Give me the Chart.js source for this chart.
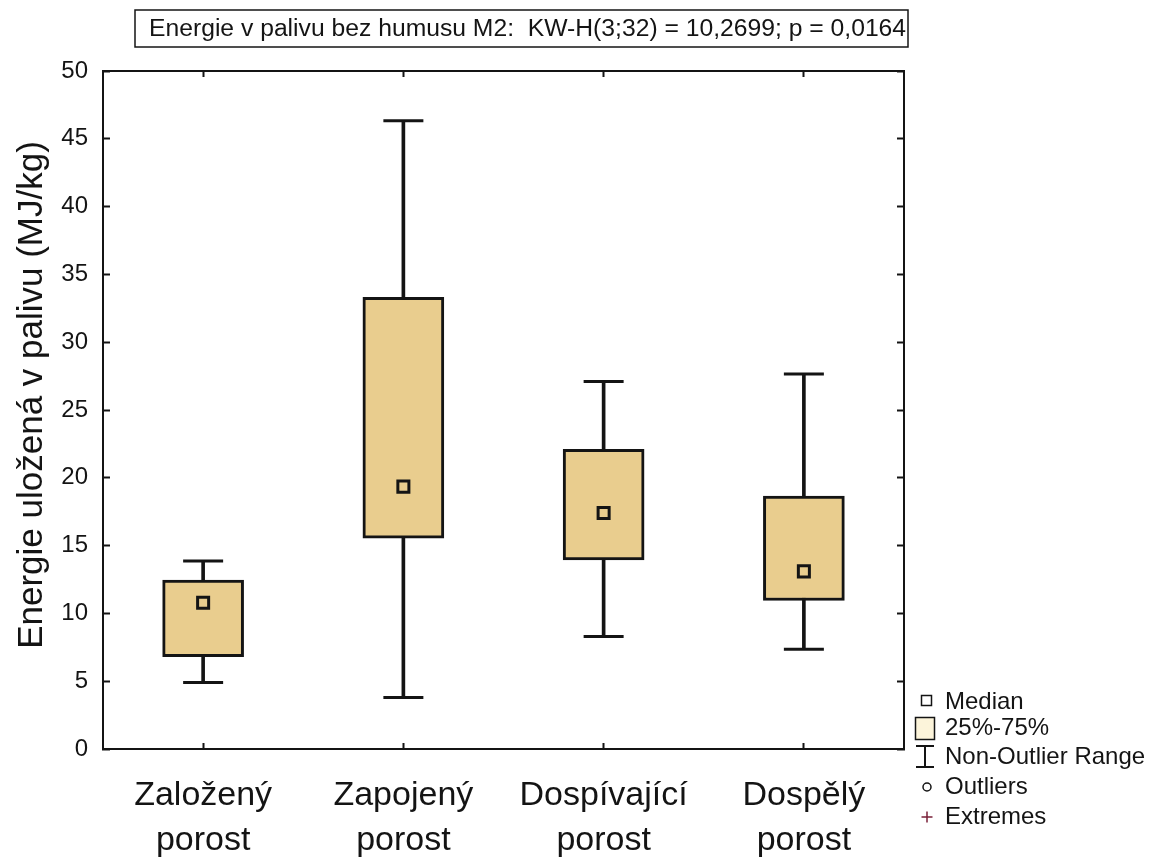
<!DOCTYPE html>
<html>
<head>
<meta charset="utf-8">
<script src="https://cdn.jsdelivr.net/npm/chart.js@4"></script>
<style>
  html, body { margin: 0; padding: 0; background: #fff; }
  canvas { display: block; }
</style>
</head>
<body>
<canvas id="c" width="1153" height="861"></canvas>
<script>
// Stand categories (two-line labels) and box-plot statistics per stand
const categories  = [['Založený', 'porost'], ['Zapojený', 'porost'], ['Dospívající', 'porost'], ['Dospělý', 'porost']];
const whiskerLow  = [4.9, 3.8, 8.3, 7.35];
const boxLow      = [6.8, 15.55, 13.95, 10.95];
const medians     = [10.78, 19.35, 17.4, 13.1];
const boxHigh     = [12.45, 33.3, 22.1, 18.65];
const whiskerHigh = [13.87, 46.33, 27.1, 27.65];
const yTicks      = [0, 5, 10, 15, 20, 25, 30, 35, 40, 45, 50];

const chartTitle  = 'Energie v palivu bez humusu M2:  KW-H(3;32) = 10,2699; p = 0,0164';
const yTitle      = 'Energie uložená v palivu (MJ/kg)';
const legendItems = ['Median', '25%-75%', 'Non-Outlier Range', 'Outliers', 'Extremes'];

const FONT = "'Liberation Sans', Arial, Helvetica, sans-serif";
const INK  = '#141414';
const FILL = '#E9CD8E';

// Title box, rotated y title and the box-plot key on the right
const decorations = {
  id: 'decorations',
  beforeDraw(chart) {
    const ctx = chart.ctx;
    ctx.save();
    ctx.fillStyle = '#fff';
    ctx.fillRect(0, 0, chart.width, chart.height);
    ctx.restore();
  },
  afterDraw(chart) {
    const ctx = chart.ctx;
    ctx.save();
    ctx.fillStyle = INK;
    ctx.strokeStyle = INK;

    // header with frame
    ctx.font = `24.7px ${FONT}`;
    ctx.textAlign = 'left';
    ctx.textBaseline = 'middle';
    ctx.fillText(chartTitle, 149, 29);
    ctx.lineWidth = 1.5;
    ctx.strokeRect(135, 10, 773, 37);

    // y axis title
    ctx.save();
    ctx.translate(32, 395);
    ctx.rotate(-Math.PI / 2);
    ctx.textAlign = 'center';
    ctx.font = `35px ${FONT}`;
    ctx.fillText(yTitle, 0, 0);
    ctx.restore();

    // key
    const tx = 945;
    const rows = [702, 728, 757, 787, 817];
    ctx.font = `24px ${FONT}`;
    ctx.textAlign = 'left';
    legendItems.forEach((t, i) => ctx.fillText(t, tx, rows[i]));

    ctx.lineWidth = 1.5;
    // median marker
    ctx.strokeRect(921.5, rows[0] - 6.5, 10, 10);
    // interquartile box
    ctx.fillStyle = '#FCF4DA';
    ctx.fillRect(915.5, 717.5, 19, 22);
    ctx.strokeRect(915.5, 717.5, 19, 22);
    // non-outlier range
    ctx.lineWidth = 2;
    ctx.beginPath();
    ctx.moveTo(916, 746); ctx.lineTo(934, 746);
    ctx.moveTo(925, 746); ctx.lineTo(925, 767);
    ctx.moveTo(916, 767); ctx.lineTo(934, 767);
    ctx.stroke();
    // outliers
    ctx.lineWidth = 1.5;
    ctx.beginPath();
    ctx.arc(927, rows[3], 4, 0, Math.PI * 2);
    ctx.stroke();
    // extremes
    ctx.strokeStyle = '#7A2038';
    ctx.beginPath();
    ctx.moveTo(921.5, rows[4]); ctx.lineTo(932.5, rows[4]);
    ctx.moveTo(927, rows[4] - 5.5); ctx.lineTo(927, rows[4] + 5.5);
    ctx.stroke();

    ctx.restore();
  }
};

const inwardGrid = { drawOnChartArea: false, drawTicks: true, tickLength: -7, tickWidth: 2, tickColor: INK, offset: false };
const frameBorder = { display: true, color: INK, width: 2 };

new Chart(document.getElementById('c'), {
  type: 'bar',
  data: {
    labels: categories,
    datasets: [
      {
        label: 'range',
        data: whiskerLow.map((v, i) => [v, whiskerHigh[i]]),
        backgroundColor: INK,
        borderWidth: 0,
        barThickness: 3,
        grouped: false,
        order: 4
      },
      {
        label: 'box',
        data: boxLow.map((v, i) => [v, boxHigh[i]]),
        backgroundColor: FILL,
        borderColor: INK,
        borderWidth: 3,
        borderSkipped: false,
        barThickness: 81,
        grouped: false,
        order: 3
      },
      {
        type: 'line',
        label: 'max',
        data: whiskerHigh,
        showLine: false,
        pointStyle: 'line',
        pointRadius: 20,
        pointBorderWidth: 3,
        pointBorderColor: INK,
        order: 2
      },
      {
        type: 'line',
        label: 'min',
        data: whiskerLow,
        showLine: false,
        pointStyle: 'line',
        pointRadius: 20,
        pointBorderWidth: 3,
        pointBorderColor: INK,
        order: 2
      },
      {
        type: 'line',
        label: 'median',
        data: medians,
        showLine: false,
        pointStyle: 'rect',
        pointRadius: 7.8,
        pointBorderWidth: 3,
        pointBorderColor: INK,
        pointBackgroundColor: FILL,
        order: 1
      }
    ]
  },
  options: {
    responsive: false,
    animation: false,
    events: [],
    layout: { padding: { top: 71, right: 249, bottom: 0, left: 0 } },
    plugins: { legend: { display: false }, tooltip: { enabled: false }, title: { display: false } },
    scales: {
      x: {
        type: 'category',
        position: 'bottom',
        offset: true,
        grid: { ...inwardGrid, tickLength: -6 },
        border: frameBorder,
        ticks: {
          color: INK,
          font: { family: FONT, size: 34, lineHeight: 1.3 },
          padding: 31,
          maxRotation: 0,
          autoSkip: false
        },
        afterFit: s => { s.height = 112; }
      },
      xTop: {
        type: 'category',
        position: 'top',
        offset: true,
        grid: { ...inwardGrid, tickLength: -6 },
        border: frameBorder,
        ticks: { display: false },
        afterFit: s => { s.height = 0; }
      },
      y: {
        type: 'linear',
        position: 'left',
        min: 0,
        max: 50,
        grid: inwardGrid,
        border: frameBorder,
        afterBuildTicks: s => { s.ticks = yTicks.map(v => ({ value: v })); },
        ticks: {
          color: INK,
          font: { family: FONT, size: 24 },
          padding: 22
        },
        afterFit: s => { s.width = 103; }
      },
      yRight: {
        type: 'linear',
        position: 'right',
        min: 0,
        max: 50,
        grid: inwardGrid,
        border: frameBorder,
        afterBuildTicks: s => { s.ticks = yTicks.map(v => ({ value: v })); },
        ticks: { display: false },
        afterFit: s => { s.width = 0; }
      }
    }
  },
  plugins: [decorations]
});
</script>
</body>
</html>
